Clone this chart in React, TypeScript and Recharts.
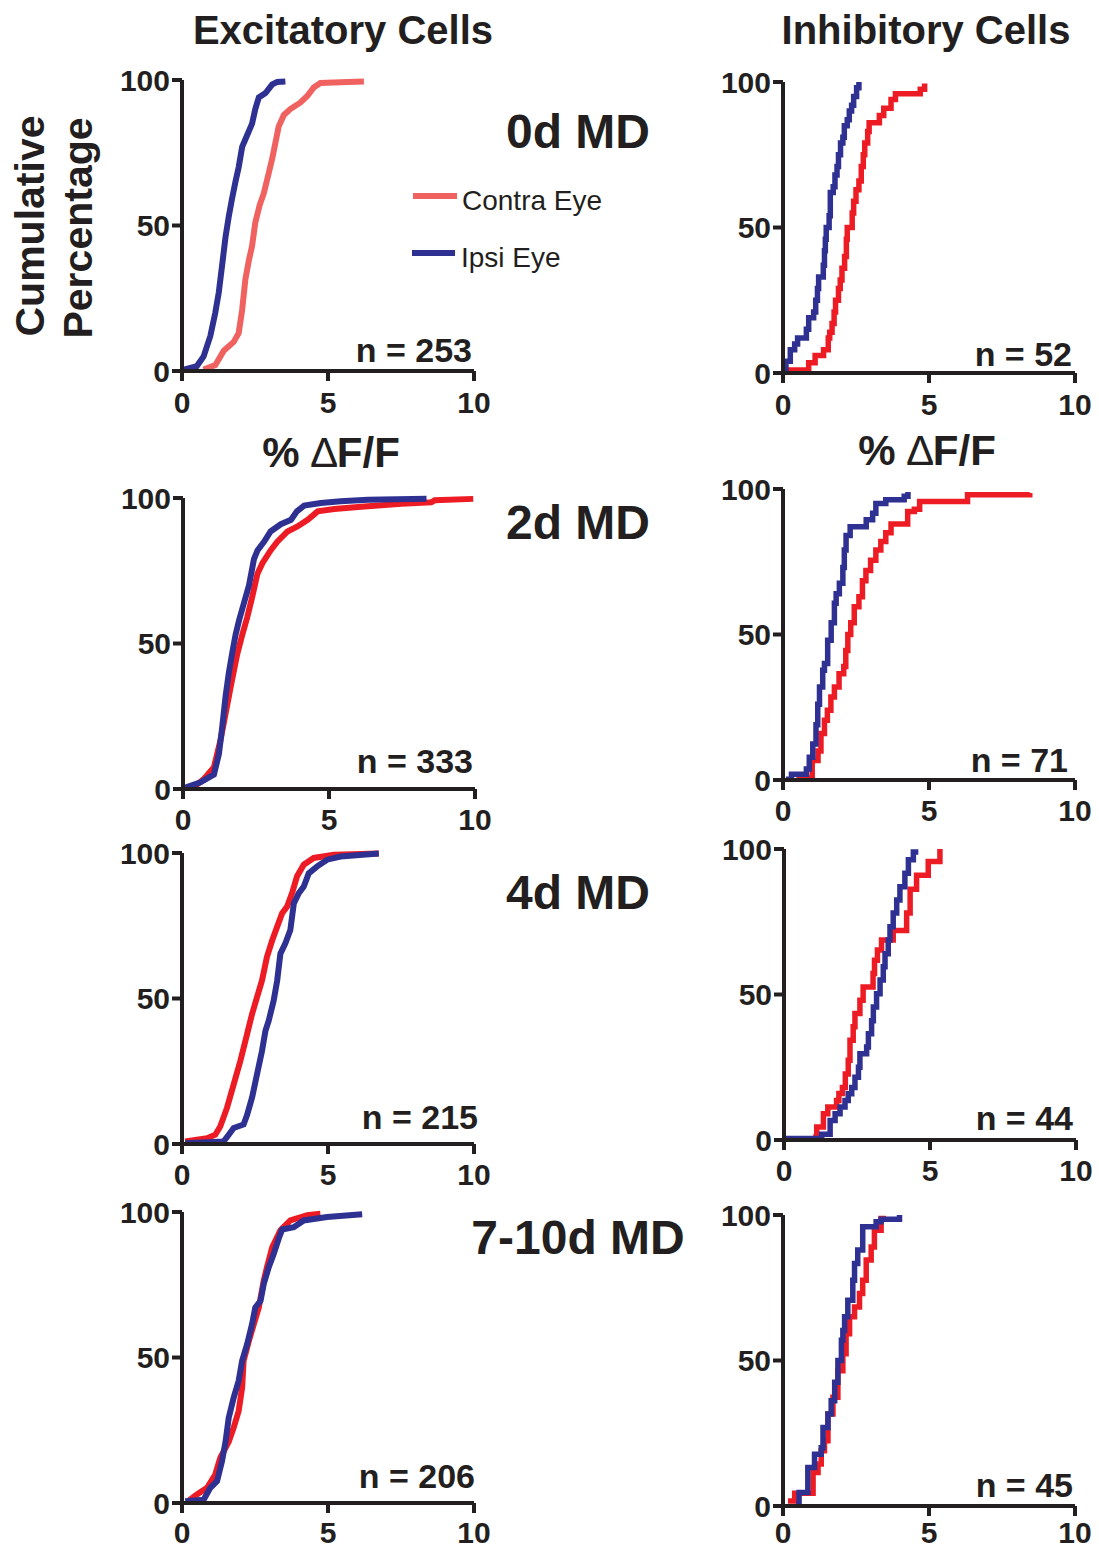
import { Line, LineChart, XAxis, YAxis } from 'recharts';

// [x (% dF/F), cumulative %]
const exc0Contra: number[][] = [
  [0.74, 0.5], [1.14, 2], [1.43, 7], [1.77, 10], [1.94, 13], [2.06, 21], [2.17, 31.5], [2.29, 38],
  [2.4, 43], [2.51, 51], [2.66, 57], [2.8, 61], [2.97, 68], [3.09, 73], [3.2, 78.5], [3.31, 84],
  [3.49, 88], [3.71, 90], [4.06, 92.3], [4.29, 94.5], [4.51, 97.4], [4.74, 99], [5.43, 99.2], [6.23, 99.5],
];
const exc0Ipsi: number[][] = [
  [0.06, 0.5], [0.51, 1.7], [0.74, 5], [0.97, 12], [1.14, 20], [1.26, 27], [1.37, 36], [1.49, 46],
  [1.6, 53], [1.71, 59], [1.83, 65], [1.94, 70], [2.06, 77], [2.23, 81], [2.4, 85], [2.51, 90],
  [2.63, 94], [2.86, 95.5], [3.09, 98.5], [3.26, 99.3], [3.54, 99.5],
];
const inh0Contra: number[][] = [
  [0.14, 1], [0.88, 3.5], [1.1, 6], [1.39, 8], [1.55, 12], [1.6, 14], [1.68, 17], [1.75, 21], [1.8, 25],
  [1.9, 29], [1.96, 32], [2.02, 36], [2.11, 40], [2.17, 46], [2.2, 50], [2.37, 55], [2.42, 59], [2.5, 63],
  [2.6, 66], [2.68, 71], [2.75, 75], [2.8, 79], [2.9, 83], [2.95, 86], [3.3, 88.5], [3.45, 91], [3.7, 94],
  [3.85, 96], [4.7, 97.5], [4.85, 99.5],
];
const inh0Ipsi: number[][] = [
  [0.02, 1], [0.1, 4], [0.25, 8], [0.4, 10], [0.5, 12], [0.8, 15], [0.88, 19], [1.05, 21], [1.12, 25],
  [1.18, 29], [1.22, 33], [1.38, 37], [1.42, 42], [1.45, 46], [1.48, 50], [1.58, 54], [1.62, 62],
  [1.72, 64], [1.78, 68], [1.85, 71], [1.9, 75], [1.97, 79], [2.05, 81], [2.1, 85], [2.2, 87],
  [2.27, 90], [2.35, 92], [2.42, 95], [2.52, 98], [2.6, 100],
];
const exc2Contra: number[][] = [
  [0.37, 0.6], [0.71, 3.4], [1.06, 7.5], [1.28, 16.6], [1.46, 26], [1.63, 35], [1.86, 46.5], [2.03, 53],
  [2.2, 59], [2.37, 66], [2.55, 74], [2.72, 77.6], [3.0, 82], [3.23, 85], [3.58, 88.5], [3.92, 90.2],
  [4.27, 92.5], [4.61, 95.4], [5.18, 96.2], [6.1, 97], [7.48, 98], [8.5, 98.5], [8.62, 99.2], [9.94, 99.7],
];
const exc2Ipsi: number[][] = [
  [0.08, 0.5], [0.6, 2.3], [1.06, 5], [1.23, 12], [1.34, 21], [1.46, 32], [1.57, 40], [1.69, 47],
  [1.8, 53], [1.92, 58], [2.09, 64], [2.26, 70], [2.43, 79], [2.55, 82], [2.78, 85], [3.0, 88.5],
  [3.35, 91], [3.7, 92.5], [3.9, 95.4], [4.15, 97.4], [4.72, 98.3], [5.4, 98.9], [6.33, 99.4], [8.34, 99.7],
];
const inh2Contra: number[][] = [
  [0.46, 0.7], [1.0, 6.7], [1.2, 10], [1.3, 16], [1.42, 20.5], [1.52, 24], [1.64, 28.5], [1.76, 32],
  [1.92, 36.5], [2.08, 39], [2.15, 44.5], [2.22, 50], [2.32, 54], [2.44, 59.5], [2.6, 63], [2.72, 68.5],
  [2.84, 72], [3.0, 75.5], [3.18, 79], [3.35, 82], [3.52, 85], [3.7, 88], [4.27, 92.3], [4.5, 93],
  [4.68, 95.7], [6.32, 98], [8.45, 98.6],
];
const inh2Ipsi: number[][] = [
  [0.1, 0.3], [0.29, 2], [0.8, 3.8], [0.9, 7.8], [1.02, 12.4], [1.13, 19], [1.19, 26], [1.25, 32],
  [1.36, 37.7], [1.42, 40], [1.53, 48], [1.65, 54], [1.76, 60.7], [1.82, 64], [1.93, 67.6], [2.05, 73],
  [2.1, 79], [2.16, 84], [2.3, 87], [2.85, 89.4], [3.07, 91.7], [3.18, 95], [3.52, 96.3], [4.15, 97.5],
  [4.28, 99],
];
const exc4Contra: number[][] = [
  [0.11, 0.9], [0.86, 2], [1.14, 3.2], [1.31, 6], [1.54, 12.4], [1.77, 20.5], [2.0, 28.6], [2.23, 37.8],
  [2.4, 44.7], [2.57, 50.5], [2.74, 56.2], [2.91, 64.3], [3.09, 70], [3.26, 74.7], [3.43, 79.3],
  [3.6, 81.6], [3.77, 86.2], [3.94, 92], [4.17, 96], [4.51, 98.3], [5.2, 99.4], [6.74, 99.8],
];
const exc4Ipsi: number[][] = [
  [0.11, 0.3], [1.43, 0.9], [1.6, 3.2], [1.77, 5.5], [2.11, 6.7], [2.23, 10], [2.4, 16], [2.57, 24],
  [2.74, 32], [2.86, 39], [2.97, 42.4], [3.14, 49.3], [3.26, 56.2], [3.37, 65.4], [3.54, 69],
  [3.71, 73.5], [3.83, 82.7], [4.0, 86.2], [4.17, 88.5], [4.34, 93], [4.63, 95.4], [4.97, 97.7],
  [5.43, 98.8], [6.74, 99.8],
];
const inh4Contra: number[][] = [
  [1.0, 1], [1.12, 4.5], [1.35, 9], [1.5, 11.3], [1.8, 13.6], [1.88, 16], [2.0, 18], [2.1, 22.7],
  [2.2, 27.4], [2.26, 34.3], [2.37, 38.9], [2.43, 43.5], [2.6, 48], [2.71, 52.6], [3.05, 57.2],
  [3.1, 61.8], [3.2, 65.3], [3.34, 68.7], [3.74, 72], [4.2, 78], [4.32, 86.2], [4.54, 91], [4.94, 95.7],
  [5.34, 100],
];
const inh4Ipsi: number[][] = [
  [0.03, 0.5], [1.29, 2], [1.58, 6.7], [1.75, 9], [1.92, 11.3], [2.09, 13.6], [2.2, 15.9], [2.32, 18],
  [2.43, 21.6], [2.55, 25], [2.6, 29.6], [2.83, 32], [2.89, 36.5], [3.0, 41], [3.06, 45.7], [3.17, 50.3],
  [3.29, 55], [3.4, 59.5], [3.46, 64], [3.57, 68.7], [3.63, 73.3], [3.74, 78], [3.86, 82.5], [3.97, 87],
  [4.14, 91.7], [4.26, 96.3], [4.43, 99], [4.6, 99],
];
const exc7Contra: number[][] = [
  [0.23, 0.8], [0.51, 2.9], [0.86, 5.2], [1.14, 9.8], [1.31, 15.5], [1.6, 21], [1.77, 25.9], [1.94, 31.6],
  [2.06, 39.7], [2.11, 48.9], [2.29, 55.7], [2.46, 61.5], [2.63, 67.2], [2.8, 76.4], [2.91, 81],
  [3.09, 87.9], [3.37, 93.7], [3.71, 97.1], [4.29, 98.9], [4.74, 99.4],
];
const exc7Ipsi: number[][] = [
  [0.11, 0.6], [0.74, 1.1], [0.97, 5.2], [1.2, 7.5], [1.37, 14.4], [1.49, 21], [1.6, 29.3], [1.77, 36.2],
  [1.94, 42], [2.06, 48.9], [2.23, 54.6], [2.4, 61.5], [2.51, 67.2], [2.69, 69.5], [2.8, 75.3],
  [2.97, 81], [3.14, 85.6], [3.31, 90.8], [3.43, 94], [3.83, 94.8], [4.17, 97.1], [4.97, 98.3], [6.17, 99.2],
];
const inh7Contra: number[][] = [
  [0.17, 1.7], [0.4, 4.4], [1.03, 11.5], [1.2, 14.4], [1.31, 19], [1.42, 22.4], [1.54, 31.6], [1.71, 37.4],
  [1.88, 46.5], [2.05, 52.3], [2.16, 59.2], [2.28, 65], [2.45, 68.4], [2.62, 73], [2.73, 77.6],
  [2.85, 84.5], [3.02, 89], [3.13, 94.8], [3.36, 98.8], [3.53, 98.8],
];
const inh7Ipsi: number[][] = [
  [0.45, 0.5], [0.55, 4.6], [0.85, 13.2], [1.08, 17.8], [1.31, 20], [1.37, 27], [1.54, 31.6], [1.65, 36.2],
  [1.77, 42.5], [1.88, 50], [2.0, 57], [2.05, 60.3], [2.11, 65], [2.22, 70.7], [2.39, 77.6], [2.45, 83.3],
  [2.56, 88], [2.73, 96], [3.19, 97.7], [3.36, 98.5], [3.99, 100],
];

const xTicks = [0, 5, 10];
const yTicks = [0, 50, 100];
const mdLabels = ['0d MD', '2d MD', '4d MD', '7-10d MD'];
const excCounts = ['n = 253', 'n = 333', 'n = 215', 'n = 206'];
const inhCounts = ['n = 52', 'n = 71', 'n = 44', 'n = 45'];

const INK = '#231f20';
const RED = '#ed1c24';
const SALMON = '#ef6260';
const BLUE = '#2e3192';
const FONT = '"Liberation Sans", Arial, Helvetica, sans-serif';

const PLOT_W = 292;
const PLOT_H = 291;
const Y_W = 70;
const M_TOP = 20;
const M_RIGHT = 25;

const toPts = (arr: number[][]) => arr.map(([x, y]) => ({ x, y }));

interface PanelProps {
  left: number;
  top: number;
  contra: number[][];
  ipsi: number[][];
  contraColor: string;
  step: boolean;
  xMargin: number;
}

const Panel = ({ left, top, contra, ipsi, contraColor, step, xMargin }: PanelProps) => {
  const tick = { fill: INK, fontSize: 30, fontWeight: 700, fontFamily: FONT };
  const axisStyle = { stroke: INK, strokeWidth: 4 };
  const type = step ? 'stepAfter' : 'linear';
  const width = step ? 5.5 : 6;
  // room under the axis for tick marks and their labels
  const xH = 10 + xMargin + 36;
  return (
    <div style={{ position: 'absolute', left: left - Y_W, top: top - M_TOP }}>
      <LineChart
        width={Y_W + PLOT_W + M_RIGHT}
        height={M_TOP + PLOT_H + xH}
        margin={{ top: M_TOP, right: M_RIGHT, left: 0, bottom: 0 }}
      >
        <XAxis
          type="number"
          dataKey="x"
          domain={[0, 10]}
          ticks={xTicks}
          interval={0}
          height={xH}
          tick={tick}
          tickSize={10}
          tickMargin={xMargin}
          axisLine={axisStyle}
          tickLine={axisStyle}
        />
        <YAxis
          type="number"
          domain={[0, 100]}
          ticks={yTicks}
          interval={0}
          width={Y_W}
          tick={tick}
          tickSize={10}
          tickMargin={2}
          axisLine={axisStyle}
          tickLine={axisStyle}
        />
        <Line
          data={toPts(contra)}
          dataKey="y"
          type={type}
          stroke={contraColor}
          strokeWidth={width}
          dot={false}
          isAnimationActive={false}
        />
        <Line
          data={toPts(ipsi)}
          dataKey="y"
          type={type}
          stroke={BLUE}
          strokeWidth={width}
          dot={false}
          isAnimationActive={false}
        />
      </LineChart>
    </div>
  );
};

const leftPanels = [
  { left: 182, top: 80, contra: exc0Contra, ipsi: exc0Ipsi, color: SALMON, m: 11 },
  { left: 183, top: 498, contra: exc2Contra, ipsi: exc2Ipsi, color: RED, m: 10 },
  { left: 182, top: 853, contra: exc4Contra, ipsi: exc4Ipsi, color: RED, m: 10 },
  { left: 182, top: 1212, contra: exc7Contra, ipsi: exc7Ipsi, color: RED, m: 9 },
];
const rightPanels = [
  { left: 783, top: 82, contra: inh0Contra, ipsi: inh0Ipsi, m: 11 },
  { left: 783, top: 489, contra: inh2Contra, ipsi: inh2Ipsi, m: 10 },
  { left: 784, top: 849, contra: inh4Contra, ipsi: inh4Ipsi, m: 10 },
  { left: 783, top: 1215, contra: inh7Contra, ipsi: inh7Ipsi, m: 6 },
];
const mdY = [148, 539, 909, 1254];
const excCountPos = [[472, 362], [473, 773], [478, 1129], [475, 1488]];
const inhCountPos = [[1072, 366], [1068, 772], [1073, 1130], [1073, 1497]];

export default function App() {
  return (
    <div
      style={{
        position: 'absolute',
        left: 0,
        top: 0,
        width: 1099,
        height: 1552,
        background: '#fff',
        fontFamily: FONT,
        overflow: 'hidden',
      }}
    >
      {leftPanels.map((p, i) => (
        <Panel key={`l${i}`} left={p.left} top={p.top} contra={p.contra} ipsi={p.ipsi} contraColor={p.color} step={false} xMargin={p.m} />
      ))}
      {rightPanels.map((p, i) => (
        <Panel key={`r${i}`} left={p.left} top={p.top} contra={p.contra} ipsi={p.ipsi} contraColor={RED} step xMargin={p.m} />
      ))}

      <svg width={1099} height={1552} style={{ position: 'absolute', left: 0, top: 0, pointerEvents: 'none' }}>
        <g fill={INK} fontFamily={FONT} fontWeight={700}>
          <text x={343} y={44} fontSize={40} textAnchor="middle">Excitatory Cells</text>
          <text x={926} y={44} fontSize={40} textAnchor="middle">Inhibitory Cells</text>
          <text transform="translate(44,226) rotate(-90)" fontSize={41} textAnchor="middle">Cumulative</text>
          <text transform="translate(92,228) rotate(-90)" fontSize={41} textAnchor="middle">Percentage</text>
          <text x={331} y={467} fontSize={42} textAnchor="middle">
            % <tspan fontWeight={400}>∆</tspan>F/F
          </text>
          <text x={927} y={465} fontSize={42} textAnchor="middle">
            % <tspan fontWeight={400}>∆</tspan>F/F
          </text>
          {mdLabels.map((t, i) => (
            <text key={t} x={578} y={mdY[i]} fontSize={48} textAnchor="middle">{t}</text>
          ))}
          {excCounts.map((t, i) => (
            <text key={t} x={excCountPos[i][0]} y={excCountPos[i][1]} fontSize={34} textAnchor="end">{t}</text>
          ))}
          {inhCounts.map((t, i) => (
            <text key={t} x={inhCountPos[i][0]} y={inhCountPos[i][1]} fontSize={34} textAnchor="end">{t}</text>
          ))}
        </g>
        <line x1={413} x2={457} y1={196} y2={196} stroke={SALMON} strokeWidth={6} />
        <line x1={412} x2={455} y1={253} y2={253} stroke={BLUE} strokeWidth={6} />
        <text x={462} y={210} fontSize={28} fill={INK} fontFamily={FONT}>Contra Eye</text>
        <text x={461} y={267} fontSize={28} fill={INK} fontFamily={FONT}>Ipsi Eye</text>
      </svg>
    </div>
  );
}
